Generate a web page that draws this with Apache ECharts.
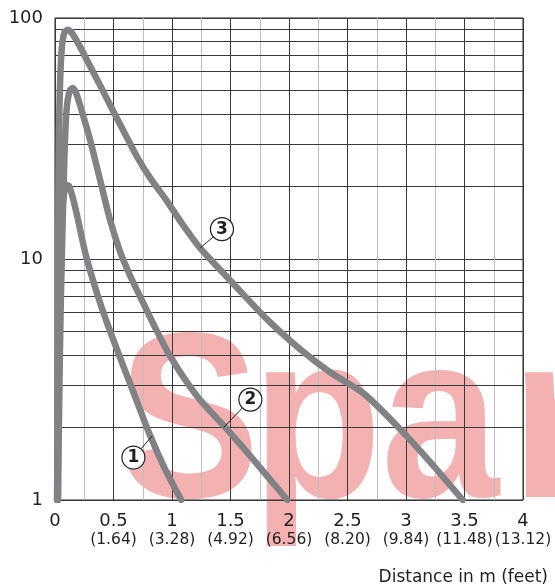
<!DOCTYPE html>
<html>
<head>
<meta charset="utf-8">
<script src="https://cdn.jsdelivr.net/npm/echarts@6/dist/echarts.min.js"></script>
<style>
html,body{margin:0;padding:0;background:#fff;}
#chart{width:555px;height:588px;}
</style>
</head>
<body>
<div id="chart"></div>
<script>
// ---- data ----
const xTickLabels = ['0','0.5','1','1.5','2','2.5','3','3.5','4'];
const feetTickLabels = ['','(1.64)','(3.28)','(4.92)','(6.56)','(8.20)','(9.84)','(11.48)','(13.12)'];
const yGridValues = [2,3,4,5,6,7,8,9,20,30,40,50,60,70,80,90];

const curve1 = [[0.017,1],[0.023,1.96],[0.029,3.83],[0.036,6.78],[0.045,10.9],[0.060,15.2],[0.077,18.6],[0.099,20.3],[0.120,20.1],[0.146,18.4],[0.188,15.2],[0.265,10.3],[0.385,6.59],[0.514,4.41],[0.668,2.82],[0.813,1.85],[0.942,1.34],[1.079,1]];
const curve2 = [[0.026,1],[0.036,2.61],[0.050,6.78],[0.066,14.5],[0.080,25.8],[0.093,37.7],[0.108,45.6],[0.128,50.2],[0.152,51.2],[0.180,48.8],[0.214,43.5],[0.300,31.2],[0.385,21.3],[0.471,14.5],[0.557,10.7],[0.642,8.52],[0.728,6.98],[0.856,5.19],[0.985,3.94],[1.216,2.69],[1.456,2.0],[1.670,1.52],[1.986,1]];
const curve3 = [[0.024,1],[0.024,2.61],[0.026,6.78],[0.029,17.6],[0.034,34.3],[0.044,55.2],[0.058,74.9],[0.081,87.3],[0.111,89.4],[0.146,86.4],[0.197,78.6],[0.274,66.8],[0.385,52.6],[0.497,41.1],[0.599,33.0],[0.702,26.5],[0.813,21.7],[0.942,17.8],[1.087,14.0],[1.241,11.1],[1.524,7.90],[1.815,5.60],[2.098,4.21],[2.354,3.38],[2.637,2.77],[2.928,2.02],[3.211,1.43],[3.485,1]];

const markerNames = ['1','2','3'];
const markerPos = [[0.670,1.50],[1.670,2.61],[1.427,13.3]];
const leaderLines = [
  [[0.735,1.63],[0.828,1.84]],
  [[1.602,2.41],[1.441,2.0]],
  [[1.353,12.37],[1.241,11.1]]
];

const dark = '#231f20';
const curveColor = '#808285';

const chart = echarts.init(document.getElementById('chart'));

const curveSeries = [curve1, curve2, curve3].map(d => ({
  type: 'line', data: d, showSymbol: false, smooth: 0.25, z: 5, silent: true,
  lineStyle: { color: curveColor, width: 6.5, cap: 'round', join: 'round' }
}));

const leaderSeries = leaderLines.map(d => ({
  type: 'line', data: d, showSymbol: false, z: 6, silent: true,
  lineStyle: { color: dark, width: 1 }
}));

const wmFill = 'rgba(222,40,40,0.36)';
const wmFont = 'bold 236px "Liberation Sans"';
const wmLetter = (ch, x) => ({ type: 'text', x: x, y: 314, scaleX: 0.9, style: { text: ch, font: wmFont, fill: wmFill } });

const option = {
  animation: false,
  title: {
    text: 'Distance in m (feet)', right: 2, top: 564,
    textStyle: { fontFamily: 'DejaVu Sans', fontSize: 17, fontWeight: 'normal', color: dark }
  },
  grid: { left: 55, right: 32, top: 18, bottom: 88, show: true, borderColor: dark, borderWidth: 1, backgroundColor: 'transparent' },
  xAxis: {
    type: 'value', min: 0, max: 4, interval: 0.5,
    axisLine: { show: false }, axisTick: { show: false },
    splitLine: { show: true, lineStyle: { color: '#3a3a3a', width: 1 } },
    minorTick: { show: false, splitNumber: 2 },
    minorSplitLine: { show: true, lineStyle: { color: '#bcbec0', width: 1 } },
    axisLabel: {
      margin: 11,
      formatter: v => {
        const i = Math.round(v / 0.5);
        return '{a|' + xTickLabels[i] + '}\n{b|' + (feetTickLabels[i] || ' ') + '}';
      },
      rich: {
        a: { fontFamily: 'DejaVu Sans', fontSize: 18, lineHeight: 20, color: dark },
        b: { fontFamily: 'DejaVu Sans', fontSize: 15.5, lineHeight: 18, color: dark }
      }
    }
  },
  yAxis: {
    type: 'log', logBase: 10, min: 1, max: 100,
    axisLine: { show: false }, axisTick: { show: false },
    splitLine: { show: true, lineStyle: { color: '#3a3a3a', width: 1 } },
    axisLabel: { margin: 12, fontFamily: 'DejaVu Sans', fontSize: 18, color: dark }
  },
  series: [
    {
      type: 'line', data: [], z: 1, silent: true,
      markLine: {
        silent: true, symbol: 'none', animation: false,
        label: { show: false },
        lineStyle: { color: '#3a3a3a', width: 1, type: 'solid' },
        data: yGridValues.map(v => ({ yAxis: v }))
      }
    },
    ...curveSeries,
    ...leaderSeries,
    {
      type: 'scatter', z: 7, silent: true,
      data: markerPos.map((p, i) => ({ value: p, name: markerNames[i] })),
      symbol: 'circle', symbolSize: 23,
      itemStyle: { color: '#ffffff', borderColor: dark, borderWidth: 1.2, opacity: 1 },
      label: {
        show: true, position: 'inside', formatter: p => p.name,
        fontFamily: 'DejaVu Sans', fontSize: 17, fontWeight: 'bold', color: dark
      }
    }
  ],
  graphic: [
    { type: 'group', silent: true, z: 100, children: [
      wmLetter('S', 118), wmLetter('p', 252), wmLetter('a', 381), wmLetter('r', 511)
    ]}
  ]
};
chart.setOption(option);
</script>
</body>
</html>
